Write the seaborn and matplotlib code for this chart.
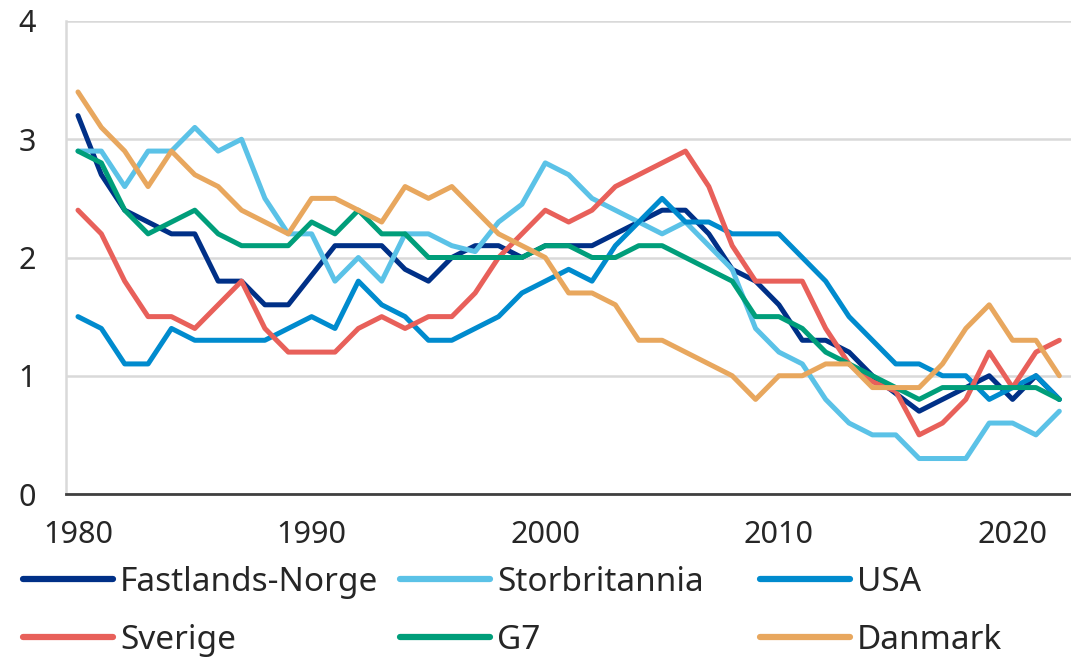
import matplotlib
matplotlib.use('Agg')
import numpy as np
import pandas as pd
import matplotlib.pyplot as plt
import seaborn as sns
from matplotlib.lines import Line2D

# Data (per cent)
years = list(range(1980, 2023))
norge = [3.2, 2.7, 2.4, 2.3, 2.2, 2.2, 1.8, 1.8, 1.6, 1.6,
         1.85, 2.1, 2.1, 2.1, 1.9, 1.8, 2.0, 2.1, 2.1, 2.0,
         2.1, 2.1, 2.1, 2.2, 2.3, 2.4, 2.4, 2.2, 1.9, 1.8,
         1.6, 1.3, 1.3, 1.2, 1.0, 0.85, 0.7, 0.8, 0.9, 1.0,
         0.8, 1.0, 0.8]
storbritannia = [2.9, 2.9, 2.6, 2.9, 2.9, 3.1, 2.9, 3.0, 2.5, 2.2,
                 2.2, 1.8, 2.0, 1.8, 2.2, 2.2, 2.1, 2.05, 2.3, 2.45,
                 2.8, 2.7, 2.5, 2.4, 2.3, 2.2, 2.3, 2.1, 1.9, 1.4,
                 1.2, 1.1, 0.8, 0.6, 0.5, 0.5, 0.3, 0.3, 0.3, 0.6,
                 0.6, 0.5, 0.7]
usa = [1.5, 1.4, 1.1, 1.1, 1.4, 1.3, 1.3, 1.3, 1.3, 1.4,
       1.5, 1.4, 1.8, 1.6, 1.5, 1.3, 1.3, 1.4, 1.5, 1.7,
       1.8, 1.9, 1.8, 2.1, 2.3, 2.5, 2.3, 2.3, 2.2, 2.2,
       2.2, 2.0, 1.8, 1.5, 1.3, 1.1, 1.1, 1.0, 1.0, 0.8,
       0.9, 1.0, 0.8]
sverige = [2.4, 2.2, 1.8, 1.5, 1.5, 1.4, 1.6, 1.8, 1.4, 1.2,
           1.2, 1.2, 1.4, 1.5, 1.4, 1.5, 1.5, 1.7, 2.0, 2.2,
           2.4, 2.3, 2.4, 2.6, 2.7, 2.8, 2.9, 2.6, 2.1, 1.8,
           1.8, 1.8, 1.4, 1.1, 0.95, 0.87, 0.5, 0.6, 0.8, 1.2,
           0.9, 1.2, 1.3]
g7 = [2.9, 2.8, 2.4, 2.2, 2.3, 2.4, 2.2, 2.1, 2.1, 2.1,
      2.3, 2.2, 2.4, 2.2, 2.2, 2.0, 2.0, 2.0, 2.0, 2.0,
      2.1, 2.1, 2.0, 2.0, 2.1, 2.1, 2.0, 1.9, 1.8, 1.5,
      1.5, 1.4, 1.2, 1.1, 1.0, 0.9, 0.8, 0.9, 0.9, 0.9,
      0.9, 0.9, 0.8]
danmark = [3.4, 3.1, 2.9, 2.6, 2.9, 2.7, 2.6, 2.4, 2.3, 2.2,
           2.5, 2.5, 2.4, 2.3, 2.6, 2.5, 2.6, 2.4, 2.2, 2.1,
           2.0, 1.7, 1.7, 1.6, 1.3, 1.3, 1.2, 1.1, 1.0, 0.8,
           1.0, 1.0, 1.1, 1.1, 0.9, 0.9, 0.9, 1.1, 1.4, 1.6,
           1.3, 1.3, 1.0]

series_names = ['Fastlands-Norge', 'Storbritannia', 'USA', 'Sverige', 'G7', 'Danmark']
colors = ['#003087', '#5BC2E7', '#008BCE', '#E8605A', '#009E7A', '#E8A75E']
x_labels = [1980, 1990, 2000, 2010, 2020]

df = pd.DataFrame({'År': years,
                   'Fastlands-Norge': norge,
                   'Storbritannia': storbritannia,
                   'USA': usa,
                   'Sverige': sverige,
                   'G7': g7,
                   'Danmark': danmark})
long_df = df.melt(id_vars='År', var_name='Serie', value_name='Verdi')

sns.set_style('white')
plt.rcParams['font.family'] = ['Noto Sans', 'DejaVu Sans']
tick_fs = 22
leg_fs = 24

W, H = 1071, 659
fig = plt.figure(figsize=(W / 100, H / 100), dpi=100)
ax = fig.add_axes([66.3 / W, 1 - 494 / H, 1 - 66.3 / W, (494 - 21) / H])

sns.lineplot(data=long_df, x='År', y='Verdi', hue='Serie', hue_order=series_names,
             palette=colors, linewidth=3.6, ax=ax, legend=False)

# axes look like an Excel category axis
ax.set_xlim(1979.5, 1979.5 + (W - 66.3) / 23.52)
ax.set_ylim(0, 4)
ax.set_yticks([0, 1, 2, 3, 4])
ax.set_xticks(x_labels)
ax.set_xticks(np.arange(1979.5, 2023, 1), minor=True)
ax.set_xlabel('')
ax.set_ylabel('')
ax.yaxis.grid(True, color='#d9d9d9', linewidth=1.8)
ax.set_axisbelow(True)
ax.tick_params(axis='x', which='major', length=0, pad=19, labelsize=tick_fs)
ax.tick_params(axis='x', which='minor', direction='in', length=8, width=1.5, color='#404040')
ax.tick_params(axis='y', length=0, pad=22, labelsize=tick_fs)
for side in ['top', 'right']:
    ax.spines[side].set_visible(False)
ax.spines['bottom'].set_color('#404040')
ax.spines['bottom'].set_linewidth(2)
ax.spines['left'].set_color('#d9d9d9')
ax.spines['left'].set_linewidth(1.8)

# legend: three columns, two rows
handles = {name: Line2D([], [], color=c, linewidth=4.5, solid_capstyle='round')
           for name, c in zip(series_names, colors)}
columns = [(23, ['Fastlands-Norge', 'Sverige']),
           (400, ['Storbritannia', 'G7']),
           (760, ['USA', 'Danmark'])]
for x0, names in columns:
    fig.legend([handles[n] for n in names], names, loc='upper left',
               bbox_to_anchor=(x0 / W, 1 - 566 / H), frameon=False,
               borderpad=0, borderaxespad=0, handlelength=2.7,
               handletextpad=0.21, labelspacing=0.74, fontsize=leg_fs)

fig.savefig('out.png', dpi=100)
